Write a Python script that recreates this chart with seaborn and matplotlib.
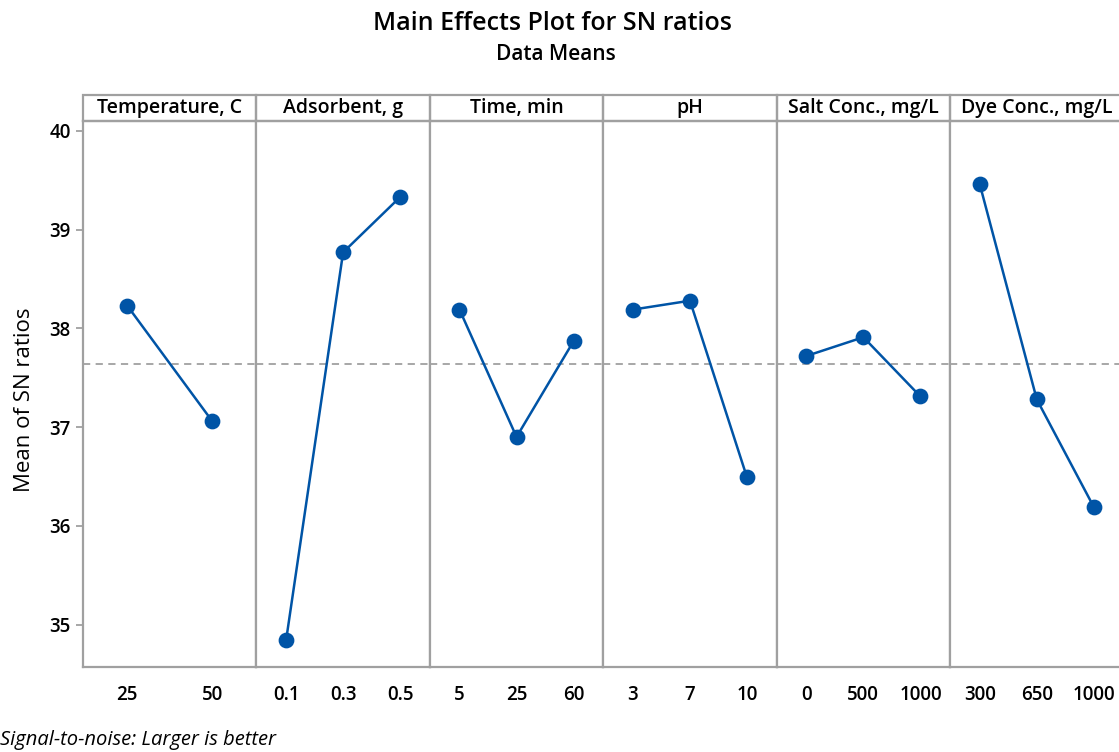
import pandas as pd
import seaborn as sns
import matplotlib.pyplot as plt
from matplotlib.patches import Rectangle

# factor names and their levels
factors = ["Temperature, C", "Adsorbent, g", "Time, min", "pH",
           "Salt Conc., mg/L", "Dye Conc., mg/L"]
levels = [["25", "50"],
          ["0.1", "0.3", "0.5"],
          ["5", "25", "60"],
          ["3", "7", "10"],
          ["0", "500", "1000"],
          ["300", "650", "1000"]]
sn_means = [[38.23, 37.06],
            [34.84, 38.77, 39.33],
            [38.19, 36.90, 37.87],
            [38.19, 38.28, 36.49],
            [37.72, 37.91, 37.31],
            [39.46, 37.28, 36.19]]
grand_mean = 37.64

rows = []
for f, lv, vals in zip(factors, levels, sn_means):
    for l, v in zip(lv, vals):
        rows.append({"factor": f, "level": l, "sn": v})
df = pd.DataFrame(rows)

sns.set_style("white")
plt.rcParams["font.family"] = ["Open Sans", "DejaVu Sans"]
plt.rcParams["text.color"] = "black"
plt.rcParams["xtick.color"] = "black"
plt.rcParams["ytick.color"] = "black"

blue = "#0054a6"
grey = "#a0a0a0"

fig, axes = plt.subplots(1, 6, sharey=True, figsize=(11.19, 7.52), dpi=100)
fig.subplots_adjust(left=83 / 1119, right=1123.5 / 1119, bottom=1 - 667 / 752,
                    top=1 - 121 / 752, wspace=0)

strip_h = 26 / 546
for ax, f, lv in zip(axes, factors, levels):
    sub = df[df["factor"] == f]
    sns.pointplot(data=sub, x="level", y="sn", order=lv, ax=ax, color=blue,
                  markersize=10, linewidth=1.8, errorbar=None)
    ax.axhline(grand_mean, color=grey, ls=(0, (4, 3)), lw=1.3, zorder=0)
    ax.set_xlim(-0.52, len(lv) - 0.48)
    ax.set_xlabel("")
    ax.set_ylabel("")
    for s in ax.spines.values():
        s.set_color(grey)
        s.set_linewidth(1.6)
    ax.tick_params(axis="x", length=5, color=grey, labelcolor="black", width=1.3,
                   labelsize=13.5, pad=8)
    for t in ax.get_xticklabels():
        t.set_fontweight("semibold")
    # strip header
    ax.add_patch(Rectangle((0, 1), 1, strip_h, transform=ax.transAxes,
                           fill=False, edgecolor=grey, lw=1.6, clip_on=False))
    ax.text(0.5, 1 + strip_h / 2, f, transform=ax.transAxes, ha="center",
            va="center", fontsize=14, fontweight="semibold")

axes[0].set_ylim(34.57, 40.1)
axes[0].set_yticks([35, 36, 37, 38, 39, 40])
axes[0].tick_params(axis="y", left=True, length=5, color=grey, labelcolor="black",
                    width=1.3, labelsize=13.5, pad=4)
for t in axes[0].get_yticklabels():
    t.set_fontweight("semibold")
for ax in axes[1:]:
    ax.tick_params(axis="y", left=False)

fig.text(0.022, 0.468, "Mean of SN ratios", rotation=90, ha="center",
         va="center", fontsize=16)
fig.text(0.494, 1 - 24 / 752, "Main Effects Plot for SN ratios", ha="center",
         va="center", fontsize=18, fontweight="semibold")
fig.text(0.497, 1 - 55 / 752, "Data Means", ha="center", va="center",
         fontsize=15, fontweight="semibold")
fig.text(0.0, 1 - 740 / 752, "Signal-to-noise: Larger is better", ha="left",
         va="center", fontsize=14.5, style="italic")

plt.savefig("out.png", dpi=100)
plt.close()
